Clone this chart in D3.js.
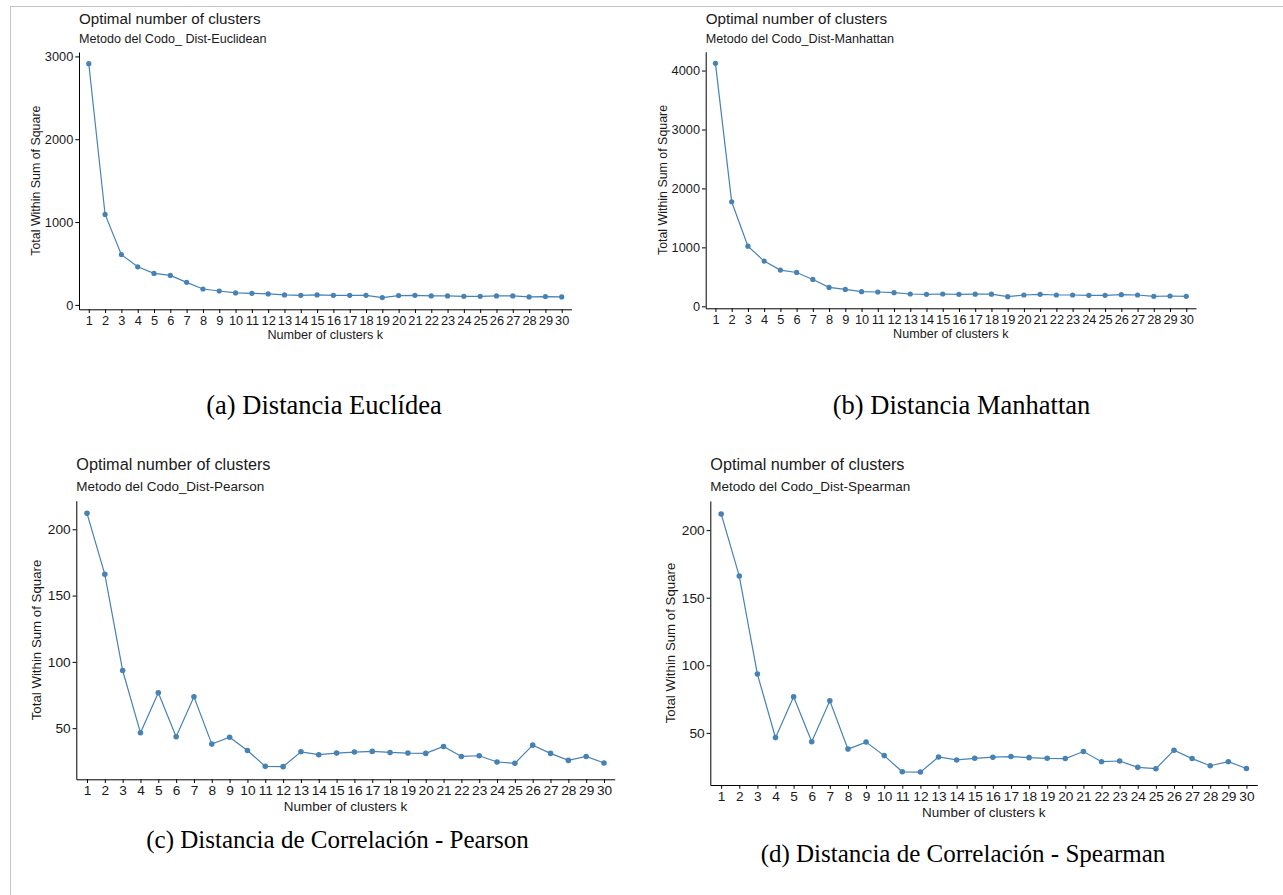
<!DOCTYPE html>
<meta charset="utf-8">

<!-- Load d3.js -->
<script src="https://d3js.org/d3.v7.min.js"></script>

<body>
    <div id="viz"></div>
</body>

<style>
    body {
        margin : 0;
        background : #fff;
    }

    text {
        font-family : "Liberation Sans", Arial, sans-serif;
        fill : #1a1a1a;
    }

    .caption {
        font-family : "Liberation Serif", "Times New Roman", serif;
        fill : #000;
    }
</style>

<script>
    let width = 1283, height = 895;

    // number of clusters k (x axis categories)
    let clusters = [1, 2, 3, 4, 5, 6, 7, 8, 9, 10, 11, 12, 13, 14, 15,
        16, 17, 18, 19, 20, 21, 22, 23, 24, 25, 26, 27, 28, 29, 30];

    // total within sum of square
    let wssEuclidean = [2912, 1092, 607, 460, 380, 356, 272, 192, 168, 144, 140, 132, 120, 116, 120,
        116, 116, 116, 88, 112, 116, 108, 108, 104, 104, 108, 108, 96, 100, 96];
    let wssManhattan = [4122, 1774, 1020, 767, 615, 574, 456, 321, 287, 248, 243, 231, 209, 203, 209,
        203, 205, 205, 164, 192, 203, 192, 192, 186, 186, 198, 192, 169, 175, 169];
    let wssPearson = [212, 166, 93.5, 46.5, 76.7, 43.5, 73.7, 38, 43.2, 33.2, 21.2, 21, 32.2, 30, 31.2,
        32, 32.5, 31.7, 31.2, 31, 36.2, 28.7, 29.2, 24.5, 23.5, 37.2, 31, 25.7, 28.7, 23.7];
    let wssSpearman = [212, 166, 93.5, 46.5, 76.7, 43.5, 73.7, 38, 43.2, 33.2, 21.2, 21, 32.2, 30, 31.2,
        32, 32.5, 31.7, 31.2, 31, 36.2, 28.7, 29.2, 24.5, 23.5, 37.2, 31, 25.7, 28.7, 23.7];

    // y tick values
    let yTicksEuclidean = [0, 1000, 2000, 3000];
    let yTicksManhattan = [0, 1000, 2000, 3000, 4000];
    let yTicksCorr = [50, 100, 150, 200];

    // texts
    let title = "Optimal number of clusters";
    let subtitles = ["Metodo del Codo_ Dist-Euclidean", "Metodo del Codo_Dist-Manhattan",
        "Metodo del Codo_Dist-Pearson", "Metodo del Codo_Dist-Spearman"];
    let captions = ["(a) Distancia Euclídea", "(b) Distancia Manhattan",
        "(c) Distancia de Correlación - Pearson", "(d) Distancia de Correlación - Spearman"];
    let xTitle = "Number of clusters k";
    let yTitle = "Total Within Sum of Square";

    let series = [wssEuclidean, wssManhattan, wssPearson, wssSpearman];
    let yTicks = [yTicksEuclidean, yTicksManhattan, yTicksCorr, yTicksCorr];

    // panel boxes (plot area) and text positions
    let layout = [
        {left : 79, top : 52, right : 571.5, bottom : 309.3, f : 1, titleY : 24, subY : 42.5, yTitleOff : 43,
            capX : 324, capY : 414, capSize : 26.5},
        {left : 705.7, top : 51.7, right : 1196, bottom : 308.3, f : 1, titleY : 24, subY : 42.5, yTitleOff : 43,
            capX : 961.5, capY : 414, capSize : 26.5},
        {left : 76.3, top : 500.7, right : 614.7, bottom : 779.3, f : 1.07, titleY : 470, subY : 490.7, yTitleOff : 40,
            capX : 337.5, capY : 848, capSize : 25},
        {left : 710.3, top : 501, right : 1257.3, bottom : 785, f : 1.07, titleY : 470, subY : 491, yTitleOff : 40,
            capX : 963, capY : 862, capSize : 25}
    ];

    let svg = d3.select("#viz")
        .append("svg")
            .attr("width", width)
            .attr("height", height);

    // page frame (thin gray lines top and left)
    svg.append("line")
        .attr("x1", 10).attr("y1", 6.5).attr("x2", width).attr("y2", 6.5)
        .style("stroke", "#c4c4c4");
    svg.append("line")
        .attr("x1", 10.5).attr("y1", 6).attr("x2", 10.5).attr("y2", height)
        .style("stroke", "#c4c4c4");

    function drawPanel(i) {
        let box = layout[i], values = series[i], f = box.f;
        let g = svg.append("g");

        let x = d3.scalePoint()
            .domain(clusters)
            .range([box.left, box.right])
            .padding(0.6);

        let ext = d3.extent(values), pad = (ext[1] - ext[0]) * 0.05;
        let y = d3.scaleLinear()
            .domain([ext[0] - pad, ext[1] + pad])
            .range([box.bottom, box.top]);

        //titles
        g.append("text")
            .attr("x", box.left)
            .attr("y", box.titleY)
            .text(title)
            .style("font-size", 15.2 * f);
        g.append("text")
            .attr("x", box.left)
            .attr("y", box.subY)
            .text(subtitles[i])
            .style("font-size", 12.6 * f);

        //axes
        let xAxis = g.append("g")
            .attr("transform", `translate(0,${box.bottom})`)
            .call(d3.axisBottom(x).tickSize(3.7).tickSizeOuter(0).tickPadding(2.5));
        xAxis.selectAll(".tick text")
            .attr("font-size", 12.8 * f)
            .attr("font-family", "Liberation Sans, Arial, sans-serif")
            .style("fill", "#1a1a1a");

        let yAxis = g.append("g")
            .attr("transform", `translate(${box.left},0)`)
            .call(d3.axisLeft(y).tickValues(yTicks[i]).tickFormat(d3.format("d"))
                .tickSize(3.7).tickSizeOuter(0).tickPadding(2));
        yAxis.selectAll(".tick text")
            .attr("font-size", 12.8 * f)
            .attr("font-family", "Liberation Sans, Arial, sans-serif")
            .style("fill", "#1a1a1a");

        g.selectAll(".domain, .tick line")
            .attr("stroke", "#000")
            .attr("stroke-width", 1);

        //axis titles
        g.append("text")
            .attr("x", (box.left + box.right) / 2)
            .attr("y", box.bottom + 30 * f)
            .attr("text-anchor", "middle")
            .text(xTitle)
            .style("font-size", 12.6 * f);
        g.append("text")
            .attr("transform", `translate(${box.left - box.yTitleOff},${(box.top + box.bottom) / 2}) rotate(-90)`)
            .attr("dy", "0.35em")
            .attr("text-anchor", "middle")
            .text(yTitle)
            .style("font-size", 12.4 * f);

        //line + points
        let line = d3.line()
            .x(function(d, j) { return x(clusters[j]) })
            .y(function(d) { return y(d) });
        g.append("path")
            .datum(values)
            .attr("d", line)
            .style("fill", "none")
            .style("stroke", "#4682B4")
            .style("stroke-width", 1.2);
        g.selectAll("circle")
            .data(values)
            .enter()
            .append("circle")
                .attr("cx", function(d, j) { return x(clusters[j]) })
                .attr("cy", function(d) { return y(d) })
                .attr("r", 2.6 * f)
                .style("fill", "#4682B4");

        //caption below the panel
        svg.append("text")
            .attr("class", "caption")
            .attr("x", box.capX)
            .attr("y", box.capY)
            .attr("text-anchor", "middle")
            .text(captions[i])
            .style("font-size", box.capSize);
    }

    for (let i = 0; i < 4; i++) drawPanel(i);
</script>
